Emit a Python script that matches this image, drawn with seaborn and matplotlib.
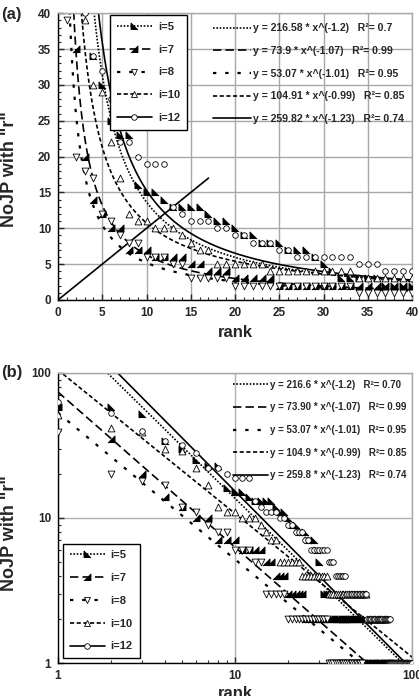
import numpy as np
import matplotlib
matplotlib.use("Agg")
import matplotlib.pyplot as plt
from matplotlib.lines import Line2D
from matplotlib.ticker import MultipleLocator, FixedLocator, LogLocator, NullFormatter
import seaborn as sns

# NoJP with "r" per rank (rank = position in list)
nojp_i5 = [62, 58, 52, 34, 30, 25, 23, 23, 16, 15,
           15, 14, 13, 13, 13, 13, 12, 11, 11, 10,
           9, 9, 8, 8, 8, 7, 7, 7, 6, 5,
           4, 3, 3, 3, 3, 3, 2, 2, 2, 2,
           2, 2, 2, 2, 2, 2, 2, 2, 2, 2,
           2, 2, 2, 2, 2, 1, 1, 1, 1, 1,
           1, 1, 1, 1, 1, 1, 1, 1, 1, 1,
           1, 1, 1, 1, 1, 1, 1, 1, 1, 1,
           1, 1, 1, 1, 1, 1, 1, 1, 1, 1,
           1, 1, 1, 1, 1, 1, 1, 1, 1, 1]
nojp_i7 = [58, 35, 20, 14, 12, 10, 10, 7, 7, 7,
           6, 6, 6, 6, 5, 5, 4, 4, 4, 3,
           3, 3, 3, 3, 2, 2, 2, 2, 2, 2,
           2, 2, 2, 2, 2, 2, 2, 2, 2, 2,
           2, 2, 2, 2, 2, 1, 1, 1, 1, 1,
           1, 1, 1, 1, 1, 1, 1, 1, 1, 1,
           1, 1, 1, 1, 1, 1, 1, 1, 1, 1,
           1, 1, 1, 1, 1]
nojp_i8 = [39, 20, 18, 17, 12, 11, 9, 8, 8, 6,
           6, 6, 5, 5, 3, 3, 3, 3, 3, 2,
           2, 2, 2, 2, 2, 2, 2, 2, 2, 2,
           2, 2, 2, 1, 1, 1, 1, 1, 1, 1,
           1, 1, 1, 1, 1, 1, 1, 1, 1, 1,
           1, 1]
nojp_i10 = [51, 42, 39, 30, 29, 22, 17, 12, 11, 11,
            10, 10, 10, 9, 8, 7, 7, 5, 5, 5,
            5, 5, 5, 4, 4, 4, 4, 4, 4, 4,
            4, 4, 4, 3, 3, 3, 3, 3, 3, 3,
            3, 3, 3, 3, 3, 3, 3, 3, 3, 3,
            3, 3, 3, 3, 3, 2, 2, 2, 2, 2,
            2, 2, 2, 2, 2, 2, 2, 2, 2, 2,
            2, 2, 1, 1, 1, 1, 1, 1, 1, 1]
nojp_i12 = [63, 53, 40, 34, 32, 28, 22, 22, 20, 19,
            19, 19, 13, 12, 11, 11, 11, 10, 10, 9,
            9, 8, 8, 8, 7, 7, 6, 6, 6, 6,
            6, 6, 6, 5, 5, 5, 4, 4, 4, 4,
            4, 4, 3, 3, 3, 3, 3, 3, 3, 3,
            3, 3, 3, 3, 3, 2, 2, 2, 2, 2,
            2, 2, 2, 2, 2, 2, 2, 2, 2, 2,
            2, 2, 2, 2, 2, 1, 1, 1, 1, 1,
            1, 1, 1, 1, 1, 1, 1, 1, 1, 1,
            1, 1, 1, 1, 1, 1, 1, 1, 1, 1]

series_names = ["i=5", "i=7", "i=8", "i=10", "i=12"]
series_vals = [nojp_i5, nojp_i7, nojp_i8, nojp_i10, nojp_i12]

# power-law fits y = a * x^b
fit_a = [216.58, 73.9, 53.07, 104.91, 259.82]
fit_b = [-1.2, -1.07, -1.01, -0.99, -1.23]
fit_labels_a = ["y = 216.58 * x^(-1.2)   R²= 0.7",
                "y = 73.9 * x^(-1.07)   R²= 0.99",
                "y = 53.07 * x^(-1.01)   R²= 0.95",
                "y = 104.91 * x^(-0.99)   R²= 0.85",
                "y = 259.82 * x^(-1.23)   R²= 0.74"]
fit_labels_b = ["y = 216.6 * x^(-1.2)   R²= 0.70",
                "y = 73.90 * x^(-1.07)   R²= 0.99",
                "y = 53.07 * x^(-1.01)   R²= 0.95",
                "y = 104.9 * x^(-0.99)   R²= 0.85",
                "y = 259.8 * x^(-1.23)   R²= 0.74"]
diag_x = [0, 17]

sns.set_style("ticks")
plt.rcParams["font.family"] = ["Liberation Sans", "DejaVu Sans"]
plt.rcParams["font.weight"] = "bold"

# styles
tri_bl = [(-1, -1), (-1, 1), (1, -1)]
tri_br = [(-1, -1), (1, 1), (1, -1)]
markers = [tri_bl, tri_br, "v", "^", "o"]
filled = [True, True, False, False, False]
msizes = [26, 26, 24, 24, 16]
lstyles = [(0, (1, 1)), (0, (5, 2.5)), (0, (1.5, 4)), (0, (2.5, 1.5)), "-"]
lwidths = [1.2, 1.2, 1.6, 1.2, 1.2]

fig = plt.figure(figsize=(4.19, 6.96), dpi=100)
ax_a = fig.add_axes([0.1384, 0.569, 0.845, 0.412])
ax_b = fig.add_axes([0.1384, 0.0474, 0.845, 0.4167])

for ax, log in [(ax_a, False), (ax_b, True)]:
    if log:
        xf = np.geomspace(1, 100, 300)
    else:
        xf = np.linspace(0.9, 40, 400)
    for k in range(5):
        sns.lineplot(x=xf, y=fit_a[k] * xf ** fit_b[k], ax=ax, color="black",
                     linestyle=lstyles[k], lw=lwidths[k], zorder=2)
    for k in range(5):
        vals = series_vals[k]
        ranks = np.arange(1, len(vals) + 1)
        sns.scatterplot(x=ranks, y=vals, ax=ax, marker=markers[k], s=msizes[k],
                        color="black" if filled[k] else "white",
                        edgecolor="black", linewidth=0.6, zorder=3)

sns.lineplot(x=diag_x, y=diag_x, ax=ax_a, color="black", lw=1.2, zorder=2)

# panel (a) axes
ax_a.set_xlim(0, 40)
ax_a.set_ylim(0, 40)
ax_a.xaxis.set_major_locator(MultipleLocator(5))
ax_a.yaxis.set_major_locator(MultipleLocator(5))
ax_a.xaxis.set_minor_locator(MultipleLocator(1))
ax_a.yaxis.set_minor_locator(MultipleLocator(1))
ax_a.grid(True, which="major", color="#a8a8a8", lw=1.0)

# panel (b) axes
ax_b.set_xscale("log")
ax_b.set_yscale("log")
ax_b.set_xlim(1, 100)
ax_b.set_ylim(1, 100)
for axis in [ax_b.xaxis, ax_b.yaxis]:
    axis.set_major_locator(FixedLocator([1, 10, 100]))
    axis.set_minor_locator(LogLocator(base=10, subs=np.arange(2, 10)))
    axis.set_minor_formatter(NullFormatter())
ax_b.set_xticklabels(["1", "10", "100"])
ax_b.set_yticklabels(["1", "10", "100"])
ax_b.grid(True, which="major", color="#b0b0b0", lw=1.0)

for ax, lab_y, xlab_y in [(ax_a, 0.456, -0.087), (ax_b, 0.448, -0.079)]:
    ax.tick_params(which="both", direction="in", labelsize=8.5, pad=5,
                   top=False, right=False)
    ax.tick_params(which="major", length=4, width=1)
    ax.tick_params(which="minor", length=2.5, width=0.8)
    for lab in ax.get_xticklabels() + ax.get_yticklabels():
        lab.set_fontweight("bold")
    ax.spines["left"].set_color("black")
    ax.spines["bottom"].set_color("black")
    ax.spines["top"].set_color("#a8a8a8")
    ax.spines["right"].set_color("#a8a8a8")
    for s in ax.spines.values():
        s.set_linewidth(1.0)
    ax.set_xlabel("rank", fontsize=12, fontweight="bold")
    ax.set_ylabel('NoJP with "r"', fontsize=13, fontweight="bold")
    ax.yaxis.set_label_coords(-0.112, lab_y)
    ax.xaxis.set_label_coords(0.5, xlab_y)

# legends
def series_handles():
    hs = []
    for k in range(5):
        hs.append(Line2D([], [], color="black", linestyle=lstyles[k], lw=lwidths[k],
                         marker=markers[k], ms=5 if k < 4 else 4,
                         mfc="black" if filled[k] else "white", mec="black", mew=0.6))
    return hs

def fit_handles():
    return [Line2D([], [], color="black", linestyle=lstyles[k], lw=lwidths[k])
            for k in range(5)]

for ax, labels, anchor_l, loc_l, anchor_f, fsize in [
        (ax_a, fit_labels_a, (0.147, 0.993), "upper left", (0.99, 0.979), 7.6),
        (ax_b, fit_labels_b, (0.014, 0.017), "lower left", (0.995, 0.99), 7.0)]:
    leg1 = ax.legend(series_handles(), series_names, loc=loc_l, bbox_to_anchor=anchor_l,
                     borderaxespad=0, fancybox=False, framealpha=1, edgecolor="black",
                     prop={"size": 8, "weight": "bold"}, handlelength=3.2,
                     labelspacing=1.15, borderpad=0.6, handletextpad=0.5)
    leg1.get_frame().set_linewidth(1.0)
    ax.add_artist(leg1)
    ax.legend(fit_handles(), labels, loc="upper right", bbox_to_anchor=anchor_f,
              borderaxespad=0, frameon=False, prop={"size": fsize, "weight": "bold"},
              handlelength=3.6, labelspacing=1.3 * 7.0 / fsize, handletextpad=0.2)

fig.text(0.003, 1 - 15 / 696, "(a)", fontsize=12, fontweight="bold", va="center")
fig.text(0.003, 1 - 373 / 696, "(b)", fontsize=12, fontweight="bold", va="center")

fig.savefig("out.png", dpi=100)
